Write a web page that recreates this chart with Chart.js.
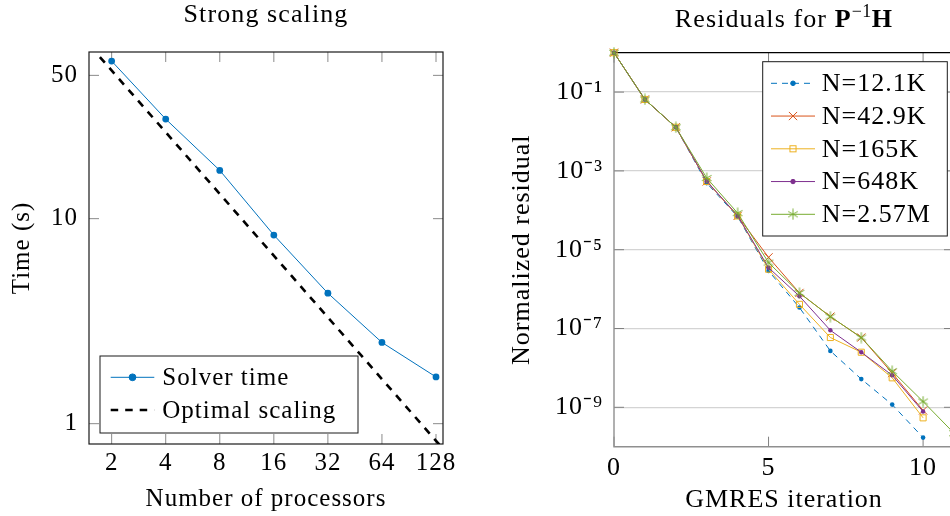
<!DOCTYPE html>
<html><head><meta charset="utf-8">
<script src="https://cdn.jsdelivr.net/npm/chart.js@4/dist/chart.umd.min.js"></script>
<style>
html,body{margin:0;padding:0;background:#fff;}
body{width:950px;height:516px;overflow:hidden;position:relative;font-family:"Liberation Serif",serif;}
#c1{position:absolute;left:0;top:0;}
#c2{position:absolute;left:480px;top:0;}
.title{position:absolute;font-size:26px;line-height:30px;color:#000;white-space:nowrap;text-align:center;letter-spacing:1.1px;}
.sup{font-size:18px;position:relative;top:-10px;letter-spacing:0.5px;}
</style></head><body>
<canvas id="c1" width="475" height="516"></canvas>
<canvas id="c2" width="500" height="516"></canvas>
<div class="title" style="left:116px;width:300px;top:-1px;">Strong scaling</div>
<div class="title" style="left:634px;width:300px;top:4px;">Residuals for <b>P</b><span class="sup">−1</span><b>H</b></div>
<script>
// ---------- data: strong scaling ----------
const processors = [2, 4, 8, 16, 32, 64, 128];
const solverTime = [58.7, 30.6, 17.2, 8.32, 4.33, 2.49, 1.69];
const optimalProcessors = [1.72, 150];
const optimalTime = [61.4, 0.704];
const processorTicks = [2, 4, 8, 16, 32, 64, 128];
const timeTicks = [1, 10, 50];

// ---------- data: GMRES residuals ----------
const iterations = [0, 1, 2, 3, 4, 5, 6, 7, 8, 9, 10, 11];
const seriesLabels = ['N=12.1K', 'N=42.9K', 'N=165K', 'N=648K', 'N=2.57M'];
const resN12K  = [1, 0.065, 0.0128, 4.9e-4, 6.9e-5, 2.9e-6, 3.4e-7, 2.7e-8, 5.2e-9, 1.17e-9, 1.7e-10];
const resN43K  = [1, 0.065, 0.0128, 5.4e-4, 7.2e-5, 6.4e-6, 8.0e-7, 2.0e-7, 5.9e-8, 7.4e-9, 8.3e-10];
const resN165K = [1, 0.065, 0.0128, 5.4e-4, 7.2e-5, 3.2e-6, 4.1e-7, 5.9e-8, 2.5e-8, 5.6e-9, 5.4e-10];
const resN648K = [1, 0.065, 0.0128, 5.5e-4, 7.3e-5, 3.5e-6, 6.6e-7, 9.0e-8, 2.5e-8, 6.5e-9, 7.8e-10];
const resN257M = [1, 0.065, 0.0128, 6.6e-4, 8.5e-5, 4.7e-6, 8.0e-7, 2.0e-7, 5.9e-8, 8.3e-9, 1.4e-9, 2.2e-10];
const iterationTicks = [0, 5, 10];
const residualTicks = [1e-1, 1e-3, 1e-5, 1e-7, 1e-9];

// ---------- styling ----------
const FONT = '"Liberation Serif", serif';
Chart.defaults.font.family = FONT;
Chart.defaults.font.size = 25;
Chart.defaults.color = '#000';

function makeAsterisk(color, size) {
  const c = document.createElement('canvas');
  c.width = c.height = size;
  const g = c.getContext('2d');
  g.strokeStyle = color; g.lineWidth = 1;
  const r = size / 2 - 0.5, cx = size / 2, cy = size / 2;
  [90, 30, 150].forEach(a => {
    const t = a * Math.PI / 180;
    g.beginPath();
    g.moveTo(cx - r * Math.cos(t), cy - r * Math.sin(t));
    g.lineTo(cx + r * Math.cos(t), cy + r * Math.sin(t));
    g.stroke();
  });
  return c;
}

function drawMarker(ctx, ds, x, y) {
  const st = ds.pointStyle, r = ds.pointRadius;
  if (!r) return;
  ctx.save();
  ctx.setLineDash([]);
  ctx.lineWidth = ds.pointBorderWidth == null ? 1 : ds.pointBorderWidth;
  ctx.strokeStyle = ds.pointBorderColor || ds.borderColor;
  ctx.fillStyle = ds.pointBackgroundColor || ds.borderColor;
  if (st instanceof HTMLCanvasElement) {
    ctx.drawImage(st, x - st.width / 2, y - st.height / 2);
  } else if (st === 'circle') {
    ctx.beginPath(); ctx.arc(x, y, r, 0, 2 * Math.PI); ctx.fill();
    if (ctx.lineWidth > 0) ctx.stroke();
  } else if (st === 'rect') {
    const s = r * Math.SQRT1_2;
    ctx.fillRect(x - s, y - s, 2 * s, 2 * s);
    ctx.strokeRect(x - s, y - s, 2 * s, 2 * s);
  } else if (st === 'crossRot') {
    const s = r * Math.SQRT1_2;
    ctx.beginPath();
    ctx.moveTo(x - s, y - s); ctx.lineTo(x + s, y + s);
    ctx.moveTo(x - s, y + s); ctx.lineTo(x + s, y - s);
    ctx.stroke();
  }
  ctx.restore();
}

function drawLegend(chart, L) {
  const ctx = chart.ctx, a = chart.chartArea;
  const x0 = L.anchor === 'bl' ? a.left + L.dx : a.right - L.dx - L.w;
  const y0 = L.anchor === 'bl' ? a.bottom - L.dy - L.h : a.top + L.dy;
  ctx.save();
  ctx.fillStyle = '#fff';
  ctx.fillRect(x0, y0, L.w, L.h);
  ctx.strokeStyle = '#1a1a1a'; ctx.lineWidth = 1;
  ctx.strokeRect(x0, y0, L.w, L.h);
  chart.data.datasets.forEach((ds, i) => {
    const y = y0 + L.first + i * L.step;
    ctx.save();
    ctx.strokeStyle = ds.borderColor; ctx.lineWidth = ds.borderWidth;
    ctx.setLineDash(ds.borderDash || []);
    ctx.beginPath(); ctx.moveTo(x0 + L.lx0, y); ctx.lineTo(x0 + L.lx1, y); ctx.stroke();
    ctx.restore();
    drawMarker(ctx, ds, x0 + (L.lx0 + L.lx1) / 2, y);
    ctx.fillStyle = '#000';
    ctx.font = L.font + 'px ' + FONT;
    ctx.textBaseline = 'middle'; ctx.textAlign = 'left';
    ctx.fillText(ds.label, x0 + L.tx, y + 1);
  });
  ctx.restore();
}

function inwardTicks(ctx, chart, xs, ys, color, len) {
  const a = chart.chartArea, sx = chart.scales.x, sy = chart.scales.y;
  ctx.save();
  ctx.strokeStyle = color; ctx.lineWidth = 1;
  ctx.beginPath();
  xs.forEach(v => {
    const p = sx.getPixelForValue(v);
    ctx.moveTo(p, a.bottom); ctx.lineTo(p, a.bottom - len);
    ctx.moveTo(p, a.top); ctx.lineTo(p, a.top + len);
  });
  ys.forEach(v => {
    const p = sy.getPixelForValue(v);
    ctx.moveTo(a.left, p); ctx.lineTo(a.left + len, p);
    ctx.moveTo(a.right, p); ctx.lineTo(a.right - len, p);
  });
  ctx.stroke();
  ctx.restore();
}

const spacingPlugin = {
  id: 'spacing',
  beforeDraw(chart) { chart.ctx.letterSpacing = '1px'; }
};

// ---------- chart 1: strong scaling ----------
const framePlugin1 = {
  id: 'frame1',
  beforeDatasetsDraw(chart) {
    const ctx = chart.ctx, a = chart.chartArea;
    inwardTicks(ctx, chart, processorTicks, timeTicks, '#8a8a8a', 10);
    ctx.save();
    ctx.strokeStyle = '#1a1a1a'; ctx.lineWidth = 1.2;
    ctx.strokeRect(a.left, a.top, a.right - a.left, a.bottom - a.top);
    ctx.restore();
  },
  afterDatasetsDraw(chart) {
    drawLegend(chart, {anchor: 'bl', dx: 11, dy: 11, w: 258, h: 77, first: 21.3, step: 32.7,
                       lx0: 10.7, lx1: 54.3, tx: 62.3, font: 25});
  }
};

new Chart(document.getElementById('c1'), {
  type: 'line',
  data: {
    datasets: [
      {
        label: 'Solver time',
        data: processors.map((p, i) => ({x: p, y: solverTime[i]})),
        borderColor: '#0072BD', borderWidth: 1,
        pointStyle: 'circle', pointRadius: 3.4, pointBackgroundColor: '#0072BD',
        pointBorderColor: '#0072BD', pointBorderWidth: 0, clip: false
      },
      {
        label: 'Optimal scaling',
        data: optimalProcessors.map((p, i) => ({x: p, y: optimalTime[i]})),
        borderColor: '#000', borderWidth: 2.6, borderDash: [7.5, 7],
        pointRadius: 0
      }
    ]
  },
  options: {
    responsive: false, animation: false, devicePixelRatio: 1, events: [],
    layout: {padding: {left: 0, top: 52, right: 32, bottom: 0}},
    plugins: {legend: {display: false}, tooltip: {enabled: false}},
    scales: {
      x: {
        type: 'logarithmic', min: 1.496, max: 140,
        afterBuildTicks: s => { s.ticks = processorTicks.map(v => ({value: v})); },
        afterFit: s => { s.height = 72; },
        grid: {display: false, drawTicks: false}, border: {display: false},
        ticks: {autoSkip: false, maxRotation: 0, padding: 4, callback: v => String(v), font: {size: 25}},
        title: {display: true, text: 'Number of processors', padding: {top: 0, bottom: 2}, font: {size: 25}}
      },
      y: {
        type: 'logarithmic', min: 0.796, max: 65,
        afterBuildTicks: s => { s.ticks = timeTicks.map(v => ({value: v})); },
        afterFit: s => { s.width = 89; },
        grid: {display: false, drawTicks: false}, border: {display: false},
        ticks: {padding: 11, callback: v => String(v), font: {size: 25}},
        title: {display: true, text: 'Time (s)', padding: {top: 7, bottom: 0}, font: {size: 25}}
      }
    }
  },
  plugins: [spacingPlugin, framePlugin1]
});

// ---------- chart 2: residuals ----------
const SUP = {'-': '⁻', '0': '⁰', '1': '¹', '2': '²', '3': '³', '4': '⁴', '5': '⁵', '6': '⁶', '7': '⁷', '8': '⁸', '9': '⁹'};
const powLabel = v => '10' + String(Math.round(Math.log10(v))).split('').map(c => SUP[c]).join('');

const framePlugin2 = {
  id: 'frame2',
  beforeDatasetsDraw(chart) {
    const ctx = chart.ctx, a = chart.chartArea;
    inwardTicks(ctx, chart, iterationTicks, residualTicks, '#808080', 10);
    ctx.save();
    ctx.lineWidth = 1.2; ctx.strokeStyle = '#000';
    ctx.beginPath(); ctx.moveTo(a.left, a.top); ctx.lineTo(a.right, a.top); ctx.lineTo(a.right, a.bottom); ctx.stroke();
    ctx.strokeStyle = '#8f8f8f'; ctx.lineWidth = 1.4;
    ctx.beginPath(); ctx.moveTo(a.left, a.top); ctx.lineTo(a.left, a.bottom); ctx.lineTo(a.right, a.bottom); ctx.stroke();
    ctx.restore();
  },
  afterDatasetsDraw(chart) {
    drawLegend(chart, {anchor: 'tr', dx: 6.7, dy: 9, w: 184.6, h: 174.3, first: 21.6, step: 32.75,
                       lx0: 8.3, lx1: 52.3, tx: 59, font: 26});
  }
};

const residualSeries = [resN12K, resN43K, resN165K, resN648K, resN257M];
const colors = ['#0072BD', '#D95319', '#EDB120', '#7E2F8E', '#77AC30'];
const styles = [
  {pointStyle: 'circle', pointRadius: 2.3, pointBackgroundColor: colors[0], pointBorderWidth: 0, borderDash: [6, 5]},
  {pointStyle: 'crossRot', pointRadius: 5.8, pointBackgroundColor: 'rgba(0,0,0,0)', pointBorderWidth: 1},
  {pointStyle: 'rect', pointRadius: 4.3, pointBackgroundColor: 'rgba(255,255,255,0)', pointBorderWidth: 1},
  {pointStyle: 'circle', pointRadius: 2.2, pointBackgroundColor: colors[3], pointBorderWidth: 0},
  {pointStyle: makeAsterisk(colors[4], 12), pointRadius: 5, pointBackgroundColor: colors[4], pointBorderWidth: 1}
];

new Chart(document.getElementById('c2'), {
  type: 'line',
  data: {
    datasets: residualSeries.map((vals, i) => Object.assign({
      label: seriesLabels[i],
      data: vals.map((v, k) => ({x: iterations[k], y: v})),
      borderColor: colors[i], borderWidth: 1,
      pointBorderColor: colors[i],
      clip: false, order: 4 - i
    }, styles[i]))
  },
  options: {
    responsive: false, animation: false, devicePixelRatio: 1, events: [],
    layout: {padding: {left: 0, top: 52.7, right: 26, bottom: 0}},
    plugins: {legend: {display: false}, tooltip: {enabled: false}},
    scales: {
      x: {
        type: 'linear', min: 0, max: 11,
        afterBuildTicks: s => { s.ticks = iterationTicks.map(v => ({value: v})); },
        afterFit: s => { s.height = 69.3; },
        grid: {display: false, drawTicks: false}, border: {display: false},
        ticks: {autoSkip: false, maxRotation: 0, padding: 6, font: {size: 26}},
        title: {display: true, text: 'GMRES iteration', padding: {top: 0, bottom: 0}, font: {size: 26}}
      },
      y: {
        type: 'logarithmic', min: 1e-10, max: 1,
        afterBuildTicks: s => { s.ticks = residualTicks.map(v => ({value: v})); },
        afterFit: s => { s.width = 134; },
        grid: {display: true, drawTicks: false, color: '#d4d4d4', lineWidth: 1.3}, border: {display: false},
        ticks: {padding: 11, callback: v => powLabel(v), font: {size: 26}},
        title: {display: true, text: 'Normalized residual', padding: {top: 27, bottom: 0}, font: {size: 26}}
      }
    }
  },
  plugins: [spacingPlugin, framePlugin2]
});
</script>
</body></html>
